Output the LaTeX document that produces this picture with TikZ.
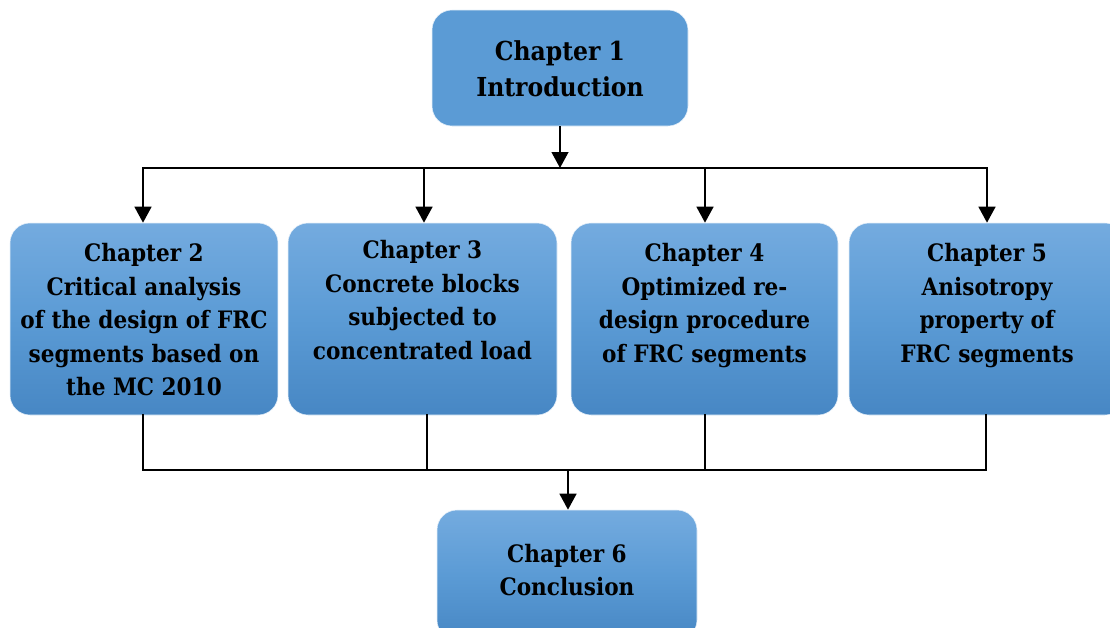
\documentclass[tikz,border=0pt]{standalone}
\usepackage{fontspec}
\setmainfont{DejaVu Serif Condensed}
\usetikzlibrary{arrows.meta}
\definecolor{boxblue}{HTML}{5B9BD5}
\definecolor{boxtop}{HTML}{74ABDF}
\definecolor{boxbot}{HTML}{4787C4}
\tikzset{
  chapbox/.style={rounded corners=15pt, inner sep=0pt, draw=white!85!boxblue, line width=0.4pt},
  shaded/.style={chapbox, top color=boxtop, bottom color=boxbot, middle color=boxblue},
  flat/.style={chapbox, fill=boxblue},
  chaptext/.style={align=center, inner sep=0pt, font=\bfseries\fontsize{18}{25.2}\selectfont},
  bigtext/.style={chaptext, font=\bfseries\fontsize{19.6}{27}\selectfont},
  wire/.style={line width=1.8pt, line cap=rect},
  feed/.style={line width=1.8pt, -{Triangle[length=12pt,width=12.5pt]}}
}
\begin{document}
\begin{tikzpicture}[x=0.75pt, y=-0.75pt]
\useasboundingbox (0,0) rectangle (1110,628);
\clip (0,0) rectangle (1110,628);
% chapter boxes
\node[flat, minimum width=192pt, minimum height=87pt] (c1) at (560,68) {};
\node[shaded, minimum width=201pt, minimum height=144pt] (c2) at (144,319) {};
\node[shaded, minimum width=201.75pt, minimum height=144pt] (c3) at (422.5,319) {};
\node[shaded, minimum width=200.25pt, minimum height=144pt] (c4) at (704.5,319) {};
\node[shaded, minimum width=207pt, minimum height=144pt] (c5) at (987,319) {};
\node[shaded, minimum width=195pt, minimum height=97.5pt] (c6) at (567,575) {};
% chapter titles
\node[bigtext] (t1) at (560,69) {Chapter 1\\Introduction};
\node[chaptext, anchor=north] (t2) at (144,243) {Chapter 2\\Critical analysis\\of the design of FRC\\segments based on\\the MC 2010};
\node[chaptext, anchor=north] (t3) at (422.5,240) {Chapter 3\\Concrete blocks\\subjected to\\concentrated load};
\node[chaptext, anchor=north] (t4) at (704.5,243) {Chapter 4\\Optimized re-\\design procedure\\of FRC segments};
\node[chaptext, anchor=north] (t5) at (987,243) {Chapter 5\\Anisotropy\\property of\\FRC segments};
\node[chaptext] (t6) at (567,570) {Chapter 6\\Conclusion};
% junction points
\coordinate (topbus) at (560,168);
\coordinate (tb2) at (143,168);
\coordinate (tb3) at (424,168);
\coordinate (tb4) at (705,168);
\coordinate (tb5) at (987,168);
\coordinate (lowbus) at (568,470);
\coordinate (lb2) at (143,470);
\coordinate (lb3) at (427,470);
\coordinate (lb4) at (705,470);
\coordinate (lb5) at (986,470);
% distribution to chapters 2-5
\draw[feed] (c1.south) -- (topbus);
\draw[wire] (tb2) -- (tb5);
\draw[feed] (tb2) -- (tb2 |- c2.north);
\draw[feed] (tb3) -- (tb3 |- c3.north);
\draw[feed] (tb4) -- (tb4 |- c4.north);
\draw[feed] (tb5) -- (tb5 |- c5.north);
% collection into chapter 6
\draw[wire] (lb2 |- c2.south) -- (lb2);
\draw[wire] (lb3 |- c3.south) -- (lb3);
\draw[wire] (lb4 |- c4.south) -- (lb4);
\draw[wire] (lb5 |- c5.south) -- (lb5);
\draw[wire] (lb2) -- (lb5);
\draw[feed] (lowbus) -- (lowbus |- c6.north);
\end{tikzpicture}
\end{document}
